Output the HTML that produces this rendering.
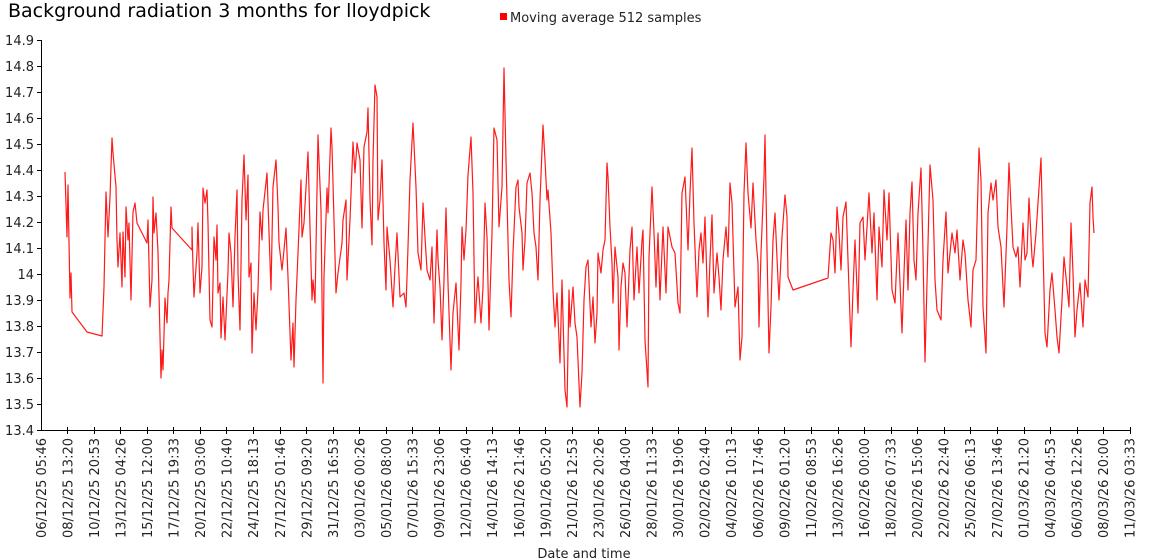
<!DOCTYPE html>
<html><head><meta charset="utf-8"><style>
html,body{margin:0;padding:0;background:#fff;}
svg{display:block;font-family:"DejaVu Sans","Liberation Sans",sans-serif;}
</style></head><body>
<svg width="1150" height="560" xmlns="http://www.w3.org/2000/svg">
<text x="8" y="17" font-size="19" fill="#000">Background radiation 3 months for lloydpick</text>
<rect x="500" y="13" width="7" height="7" fill="#f00"/>
<text x="510" y="22" font-size="13" fill="#222">Moving average 512 samples</text>
<g font-size="13" fill="#222" text-anchor="end">
<text x="34" y="45">14.9</text><text x="34" y="71">14.8</text><text x="34" y="97">14.7</text><text x="34" y="123">14.6</text><text x="34" y="149">14.5</text><text x="34" y="175">14.4</text><text x="34" y="201">14.3</text><text x="34" y="227">14.2</text><text x="34" y="253">14.1</text><text x="34" y="279">14</text><text x="34" y="305">13.9</text><text x="34" y="331">13.8</text><text x="34" y="357">13.7</text><text x="34" y="383">13.6</text><text x="34" y="409">13.5</text><text x="34" y="435">13.4</text>
</g>
<g stroke="#000" stroke-width="1">
<line x1="41.5" y1="40" x2="41.5" y2="430.5"/>
<line x1="41" y1="430.5" x2="1131" y2="430.5"/>
<path d="M37 40.5h4M37 66.5h4M37 92.5h4M37 118.5h4M37 144.5h4M37 170.5h4M37 196.5h4M37 222.5h4M37 248.5h4M37 274.5h4M37 300.5h4M37 326.5h4M37 352.5h4M37 378.5h4M37 404.5h4M37 430.5h4"/>
<path d="M67.5 427v7M94.5 427v7M120.5 427v7M147.5 427v7M173.5 427v7M200.5 427v7M226.5 427v7M253.5 427v7M280.5 427v7M306.5 427v7M333.5 427v7M359.5 427v7M386.5 427v7M412.5 427v7M439.5 427v7M466.5 427v7M492.5 427v7M519.5 427v7M545.5 427v7M572.5 427v7M598.5 427v7M625.5 427v7M652.5 427v7M678.5 427v7M705.5 427v7M731.5 427v7M758.5 427v7M784.5 427v7M811.5 427v7M838.5 427v7M864.5 427v7M891.5 427v7M917.5 427v7M944.5 427v7M970.5 427v7M997.5 427v7M1024.5 427v7M1050.5 427v7M1077.5 427v7M1103.5 427v7M1130.5 427v7"/>
</g>
<g font-size="13" fill="#222" text-anchor="end">
<text transform="translate(46,438) rotate(-90)">06/12/25 05:46</text>
<text transform="translate(72.5,438) rotate(-90)">08/12/25 13:20</text>
<text transform="translate(99,438) rotate(-90)">10/12/25 20:53</text>
<text transform="translate(125.5,438) rotate(-90)">13/12/25 04:26</text>
<text transform="translate(152,438) rotate(-90)">15/12/25 12:00</text>
<text transform="translate(178.5,438) rotate(-90)">17/12/25 19:33</text>
<text transform="translate(205,438) rotate(-90)">20/12/25 03:06</text>
<text transform="translate(231.5,438) rotate(-90)">22/12/25 10:40</text>
<text transform="translate(258,438) rotate(-90)">24/12/25 18:13</text>
<text transform="translate(285,438) rotate(-90)">27/12/25 01:46</text>
<text transform="translate(311.5,438) rotate(-90)">29/12/25 09:20</text>
<text transform="translate(338,438) rotate(-90)">31/12/25 16:53</text>
<text transform="translate(364.5,438) rotate(-90)">03/01/26 00:26</text>
<text transform="translate(391,438) rotate(-90)">05/01/26 08:00</text>
<text transform="translate(417.5,438) rotate(-90)">07/01/26 15:33</text>
<text transform="translate(444,438) rotate(-90)">09/01/26 23:06</text>
<text transform="translate(470.5,438) rotate(-90)">12/01/26 06:40</text>
<text transform="translate(497,438) rotate(-90)">14/01/26 14:13</text>
<text transform="translate(524,438) rotate(-90)">16/01/26 21:46</text>
<text transform="translate(550.5,438) rotate(-90)">19/01/26 05:20</text>
<text transform="translate(577,438) rotate(-90)">21/01/26 12:53</text>
<text transform="translate(603.5,438) rotate(-90)">23/01/26 20:26</text>
<text transform="translate(630,438) rotate(-90)">26/01/26 04:00</text>
<text transform="translate(656.5,438) rotate(-90)">28/01/26 11:33</text>
<text transform="translate(683,438) rotate(-90)">30/01/26 19:06</text>
<text transform="translate(709.5,438) rotate(-90)">02/02/26 02:40</text>
<text transform="translate(736,438) rotate(-90)">04/02/26 10:13</text>
<text transform="translate(763,438) rotate(-90)">06/02/26 17:46</text>
<text transform="translate(789.5,438) rotate(-90)">09/02/26 01:20</text>
<text transform="translate(816,438) rotate(-90)">11/02/26 08:53</text>
<text transform="translate(842.5,438) rotate(-90)">13/02/26 16:26</text>
<text transform="translate(869,438) rotate(-90)">16/02/26 00:00</text>
<text transform="translate(895.5,438) rotate(-90)">18/02/26 07:33</text>
<text transform="translate(922,438) rotate(-90)">20/02/26 15:06</text>
<text transform="translate(948.5,438) rotate(-90)">22/02/26 22:40</text>
<text transform="translate(975,438) rotate(-90)">25/02/26 06:13</text>
<text transform="translate(1002,438) rotate(-90)">27/02/26 13:46</text>
<text transform="translate(1028.5,438) rotate(-90)">01/03/26 21:20</text>
<text transform="translate(1055,438) rotate(-90)">04/03/26 04:53</text>
<text transform="translate(1081.5,438) rotate(-90)">06/03/26 12:26</text>
<text transform="translate(1108,438) rotate(-90)">08/03/26 20:00</text>
<text transform="translate(1134.5,438) rotate(-90)">11/03/26 03:33</text>
</g>
<text x="584" y="558" font-size="13" fill="#222" text-anchor="middle">Date and time</text>
<polyline fill="none" stroke="#ff1a1a" stroke-width="1.2" stroke-linejoin="round" points="
65,172 67,237 68,185 70,298 71,273 72,312 87,332 102,336 104,287 106,192 108,237 110,197 112,138 113,153 116,187 117,240 118,267 120,233 122,287 123,232 125,277 126,207 128,240 129,223 131,300 133,212 135,203 137,223 147,243 148,220 150,307 152,280 153,197 154,233 156,213 158,252 161,378 162,350 163,370 165,298 167,323 168,293 169,280 171,207 172,228 192,250 192,227 193,267 194,297 197,253 198,223 200,293 202,267 203,188 205,203 207,190 208,223 210,320 212,327 214,237 216,260 217,225 218,293 220,283 221,338 223,297 225,340 228,272 229,233 231,253 233,307 235,237 237,190 238,273 240,330 242,200 244,155 246,220 248,175 249,277 251,263 252,353 254,293 256,330 258,290 260,212 262,240 263,210 267,173 268,203 271,290 273,187 276,160 278,207 279,243 282,270 284,250 286,228 288,277 291,360 293,323 294,367 296,300 298,253 301,180 302,237 304,223 308,152 310,227 312,300 313,280 315,303 318,135 321,210 323,383 324,277 327,188 328,213 331,128
332,147 336,293 338,273 342,243 343,220 346,200 347,280 350,220 353,142 355,173 357,143 360,160 362,228 364,147 367,132 368,108 370,200 372,245 373,160 375,85 377,97 378,220 380,200 382,160 384,243 386,290 387,227 390,260 393,307 395,267 397,233 400,297 404,293 406,307 408,247 410,180 413,123 416,187 418,253 421,270 423,203 425,237 427,270 430,280 432,247 434,323 437,230 438,260 440,287 442,340 444,280 446,208 448,283 451,370 453,313 456,283 459,350 461,283 462,227 464,260 466,230 468,175 471,137 473,193 475,323 477,290 478,277 481,323 483,287 485,203 487,237 489,330 492,233 494,128 497,140 499,227 502,187 504,68 506,160 509,280 511,317 513,253 516,187 518,180 519,207 522,233 523,270 525,240 527,183 530,173 532,193 534,233 536,247 538,280 540,200 543,125 545,160 547,200 548,190 551,233 553,290 555,327 557,293 560,363 562,280 565,390 567,407 569,290 570,327 573,287 575,323 577,337 580,407 582,373 584,300 586,267 588,260 591,327 593,297 595,343 597,313 598,253 601,273 603,250 605,240 607,163
608,177 610,227 612,263 613,303 615,247 618,277 619,350 621,287 623,263 625,273 627,327 630,250 632,227 634,300 637,247 639,293 642,240 643,230 645,340 648,387 649,257 652,187 654,233 656,287 658,233 660,300 663,227 666,293 668,227 672,247 675,253 678,303 680,313 682,193 685,177 688,250 690,193 692,148 694,223 697,297 699,250 701,233 703,263 705,217 708,317 710,260 712,215 714,293 717,253 719,277 721,310 723,260 726,227 728,257 730,183 732,203 735,307 738,287 740,360 742,337 744,193 746,143 748,193 751,228 753,183 756,240 758,263 759,327 761,253 764,177 765,135 767,250 769,353 771,307 773,240 775,213 778,280 779,300 782,237 785,195 787,217 788,277 793,290 828,278
831,233 833,240 835,273 837,207 839,233 841,270 843,217 846,202 848,260 851,347 853,290 855,240 858,313 860,223 863,217 865,260 867,227 869,193 872,253 874,213 877,300 879,227 882,267 884,190 887,240 889,193 892,290 895,303 898,233 902,333 904,273 906,220 908,290 910,213 912,182 914,260 916,280 918,213 921,168 923,253 925,362 927,283 930,165 933,200 935,280 937,310 941,320 943,260 946,212 948,273 952,233 955,253 957,230 960,280 963,240 965,253 968,300 971,327 973,270 976,260 979,148 981,180 983,307 986,353 988,213 991,183 993,200 996,180 998,227 1001,247 1004,307 1007,227 1009,163 1011,207 1013,247 1016,257 1018,247 1020,287 1023,223 1025,260 1027,253 1029,198 1032,257 1033,267 1036,233 1038,203 1041,158 1043,247 1045,333 1047,347 1050,290 1052,273 1055,310 1057,337 1059,353 1062,300 1064,257 1067,287 1069,307 1071,223 1073,273 1075,337 1077,310 1080,283 1083,327 1085,280 1088,297 1090,203 1092,187 1093,217 1094,233"/>
</svg>
</body></html>
